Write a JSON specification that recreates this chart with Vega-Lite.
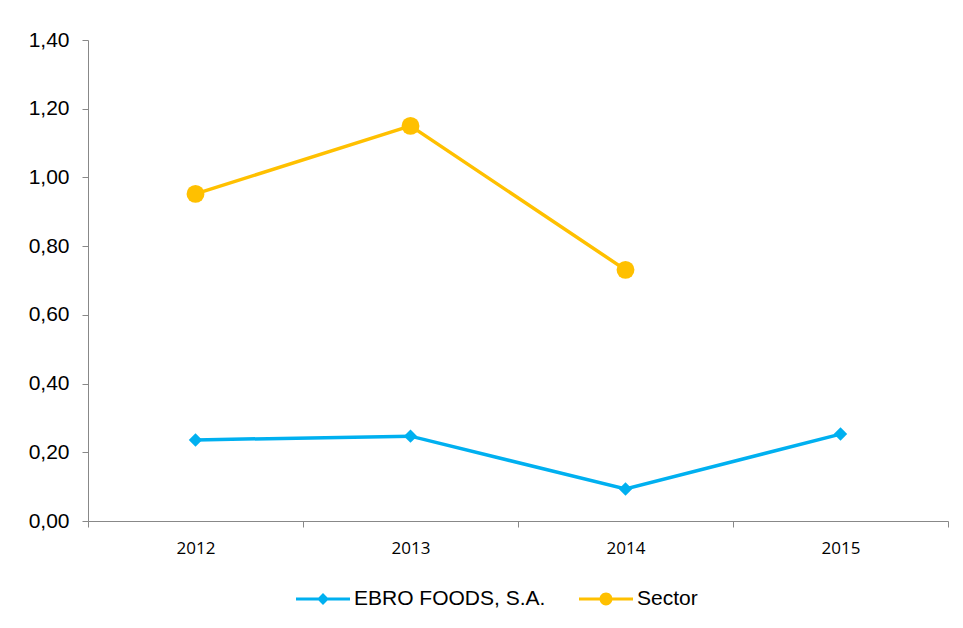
{
  "$schema": "https://vega.github.io/schema/vega-lite/v6.json",
  "width": 860,
  "height": 481,
  "autosize": {"type": "none"},
  "padding": {"left": 88, "top": 40, "right": 15, "bottom": 107},
  "background": "white",
  "config": {
    "view": {"stroke": null},
    "locale": {"number": {"decimal": ",", "thousands": ".", "grouping": [3], "currency": ["", " €"]}}
  },
  "data": {
    "values": [
      {"year": "2012", "series": "EBRO FOODS, S.A.", "value": 0.236},
      {"year": "2013", "series": "EBRO FOODS, S.A.", "value": 0.247},
      {"year": "2014", "series": "EBRO FOODS, S.A.", "value": 0.093},
      {"year": "2015", "series": "EBRO FOODS, S.A.", "value": 0.253},
      {"year": "2012", "series": "Sector", "value": 0.952},
      {"year": "2013", "series": "Sector", "value": 1.15},
      {"year": "2014", "series": "Sector", "value": 0.731}
    ]
  },
  "encoding": {
    "x": {
      "field": "year", "type": "nominal",
      "scale": {"paddingInner": 0, "paddingOuter": 0},
      "axis": {
        "title": null, "labelAngle": 0, "tickBand": "extent",
        "domainColor": "#888888", "tickColor": "#888888", "tickSize": 6,
        "labelFont": "Open Sans", "labelFontSize": 17, "labelColor": "#000000",
        "labelPadding": 13, "grid": false
      }
    },
    "y": {
      "field": "value", "type": "quantitative",
      "scale": {"domain": [0, 1.4], "nice": false},
      "axis": {
        "title": null, "values": [0, 0.2, 0.4, 0.6, 0.8, 1.0, 1.2, 1.4],
        "format": ".2f", "grid": false,
        "domainColor": "#888888", "tickColor": "#888888", "tickSize": 6,
        "labelFont": "Liberation Sans", "labelFontSize": 21, "labelColor": "#000000",
        "labelPadding": 13
      }
    }
  },
  "layer": [
    {
      "mark": {"type": "line", "strokeWidth": 3.5},
      "encoding": {
        "color": {
          "field": "series", "type": "nominal",
          "scale": {"domain": ["EBRO FOODS, S.A.", "Sector"], "range": ["#00B0F0", "#FFC000"]},
          "legend": {
            "title": null, "orient": "none", "direction": "horizontal",
            "legendX": 208, "legendY": 532, "padding": 0,
            "symbolSize": 2916, "symbolStrokeWidth": 0, "symbolType": "square",
            "labelFont": "Liberation Sans", "labelFontSize": 21, "labelColor": "#000000",
            "labelOffset": 4, "columnPadding": 33, "labelLimit": 400,
            "encode": {
              "symbols": {
                "update": {
                  "shape": {"signal": "datum.value === 'Sector' ? 'M-1,-0.055L1,-0.055L1,0.055L-1,0.055Z M0.24,0A0.24,0.24,0,1,1,-0.24,0A0.24,0.24,0,1,1,0.24,0Z' : 'M-1,-0.055L1,-0.055L1,0.055L-1,0.055Z M0,-0.22L0.22,0L0,0.22L-0.22,0Z'"},
                  "fill": {"signal": "scale('color', datum.value)"},
                  "size": {"value": 2916},
                  "strokeWidth": {"value": 0}
                }
              }
            }
          }
        }
      }
    },
    {
      "transform": [{"filter": "datum.series === 'EBRO FOODS, S.A.'"}],
      "mark": {"type": "point", "filled": true, "opacity": 1, "shape": "diamond", "size": 180, "color": "#00B0F0"}
    },
    {
      "transform": [{"filter": "datum.series === 'Sector'"}],
      "mark": {"type": "point", "filled": true, "opacity": 1, "shape": "circle", "size": 320, "color": "#FFC000"}
    }
  ]
}
